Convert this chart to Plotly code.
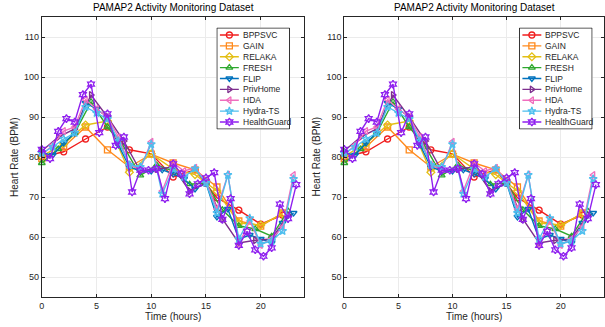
import plotly.graph_objects as go

# ---------------- data ----------------
t_2h = [0, 2, 4, 6, 8, 10, 12, 14, 16, 18, 20, 22]
t_1_5h = [0, 1.5, 3, 4.5, 6, 7.5, 9, 10.5, 12, 13.5, 15, 16.5, 18, 19.5, 21, 22.5]
t_1h = [0, 1, 2, 3, 4, 5, 6, 7, 8, 9, 10, 11, 12, 13, 14, 15, 16, 17, 18, 19, 20, 21, 22, 23]
t_075h = [0, 0.75, 1.5, 2.25, 3, 3.75, 4.5, 5.25, 6, 6.75, 7.5, 8.25, 9, 9.75, 10.5, 11.25,
          12, 12.75, 13.5, 14.25, 15, 15.75, 16.5, 17.25, 18, 18.75, 19.5, 20.25, 21, 21.75, 22.5, 23.25]

bppsvc = [80.0, 81.3, 84.5, 87.5, 81.8, 80.8, 75.0, 76.8, 69.8, 66.7, 63.2, 65.5]
gain = [79.6, 82.5, 87.5, 81.8, 77.5, 80.7, 78.5, 76.8, 72.5, 64.0, 62.7, 66.0]
relaka = [80.2, 83.3, 88.0, 89.0, 76.2, 80.8, 77.0, 75.6, 71.5, 63.5, 63.0, 65.8]
fresh = [78.5, 82.0, 86.0, 93.8, 87.5, 82.5, 75.4, 78.0, 76.5, 73.2, 73.5, 66.8, 62.8, 62.0, 60.2, 66.5]
privhome = [81.5, 85.0, 87.0, 95.5, 90.0, 84.0, 76.5, 77.0, 77.5, 71.5, 73.5, 64.5, 58.5, 59.2, 59.5, 65.5]
flip = [81.0, 80.5, 83.5, 86.0, 93.5, 92.0, 90.0, 83.0, 77.5, 76.5, 76.5, 76.8, 75.8, 74.5, 72.0, 73.5,
        65.0, 67.0, 59.5, 60.5, 59.5, 58.5, 63.5, 66.0]
hda = [80.5, 83.0, 86.5, 87.5, 94.3, 92.0, 90.0, 85.0, 78.0, 77.0, 83.8, 71.5, 78.5, 76.5, 77.3, 74.0,
       67.0, 75.6, 58.2, 64.0, 58.0, 59.5, 62.5, 75.5]
hydra = [81.0, 82.5, 84.5, 86.0, 92.5, 91.0, 89.5, 84.0, 78.0, 77.5, 83.2, 70.8, 77.0, 75.0, 77.1, 73.5,
         66.0, 75.5, 59.5, 64.7, 58.3, 59.0, 61.5, 74.5]
healthguard = [81.9, 79.6, 86.4, 89.6, 88.75, 95.6, 98.2, 86.1, 90.8, 82.9, 85.0, 71.25, 76.7, 76.7, 77.1, 69.6,
               78.3, 75.8, 70.8, 73.3, 74.8, 76.1, 64.4, 69.6, 57.9, 61.4, 56.8, 55.2, 57.3, 68.2, 64.6, 73.1]

names = ["BPPSVC", "GAIN", "RELAKA", "FRESH", "FLIP", "PrivHome", "HDA", "Hydra-TS", "HealthGuard"]
times = [t_2h, t_2h, t_2h, t_1_5h, t_1h, t_1_5h, t_1h, t_1h, t_075h]
values = [bppsvc, gain, relaka, fresh, flip, privhome, hda, hydra, healthguard]
colors = ["#F01E1E", "#FF8A1C", "#E3BF14", "#2EA82E", "#0072BD", "#7E2F8E", "#F06EBE", "#4DBEEE", "#8F1FEF"]
symbols = ["circle-open", "square-open", "diamond-open", "triangle-up-open", "triangle-down-open",
           "triangle-right-open", "triangle-left-open", "star-open", "hexagram-open"]

x_ticks = [0, 5, 10, 15, 20]
y_ticks = [50, 60, 70, 80, 90, 100, 110]
title_text = "PAMAP2 Activity Monitoring Dataset"
xlabel = "Time (hours)"
ylabel = "Heart Rate (BPM)"

# ---------------- layout geometry (pixels) ----------------
W, H = 605, 327
TOP, BOT = 17, 297
LEG_TOP, LEG_BOT = 28, 129
panels = [
    dict(xa="x", ya="y", lxa="x3", lya="y3", x0=39, x1=303, lx0=215, lx1=288),
    dict(xa="x2", ya="y2", lxa="x4", lya="y4", x0=343, x1=604, lx0=519, lx1=592),
]
FONT = "Liberation Sans, Arial, Helvetica, sans-serif"
INK = "#262626"

fig = go.Figure()
annotations = []
layout_axes = {}

for pi, p in enumerate(panels):
    # data traces
    for n, t, v, c, s in zip(names, times, values, colors, symbols):
        fig.add_trace(go.Scatter(
            x=t, y=v, mode="lines+markers", name=n, showlegend=False,
            xaxis=p["xa"], yaxis=p["ya"], cliponaxis=False,
            line=dict(color=c, width=1.4),
            marker=dict(symbol=s, size=6, color=c, line=dict(color=c, width=1.3)),
        ))

    sfx = "" if pi == 0 else "2"
    common = dict(showline=True, linecolor=INK, linewidth=1, mirror="ticks", ticks="inside",
                  ticklen=3, tickcolor=INK, tickwidth=1, showgrid=True, gridcolor="#EBEBEB",
                  gridwidth=1, zeroline=False, fixedrange=True,
                  tickfont=dict(family=FONT, size=9, color=INK))
    layout_axes["xaxis" + sfx] = dict(common, range=[0, 24], tickvals=x_ticks,
                                      domain=[p["x0"] / W, p["x1"] / W], anchor=p["ya"])
    layout_axes["yaxis" + sfx] = dict(common, range=[45, 115], tickvals=y_ticks,
                                      domain=[1 - BOT / H, 1 - TOP / H], anchor=p["xa"])

    # custom compact legend on its own hidden axes (pixel units inside the box)
    lw = p["lx1"] - p["lx0"]
    lh = LEG_BOT - LEG_TOP
    lsfx = p["lxa"][1:]
    layout_axes["xaxis" + lsfx] = dict(visible=False, range=[-0.5, lw + 0.5], fixedrange=True,
                                       domain=[(p["lx0"] - 0.5) / W, (p["lx1"] + 0.5) / W], anchor=p["lya"])
    layout_axes["yaxis" + lsfx] = dict(visible=False, range=[lh + 0.5, -0.5], fixedrange=True,
                                       domain=[1 - (LEG_BOT + 0.5) / H, 1 - (LEG_TOP - 0.5) / H], anchor=p["lxa"])
    fig.add_trace(go.Scatter(
        x=[0, lw, lw, 0, 0], y=[0, 0, lh, lh, 0], mode="lines", fill="toself",
        fillcolor="white", line=dict(color=INK, width=1), showlegend=False,
        hoverinfo="skip", xaxis=p["lxa"], yaxis=p["lya"]))
    row_h = (lh - 14) / (len(names) - 1)
    for i, (n, c, s) in enumerate(zip(names, colors, symbols)):
        yy = 7 + row_h * i
        fig.add_trace(go.Scatter(
            x=[3, 22], y=[yy, yy], mode="lines", line=dict(color=c, width=1.4),
            showlegend=False, hoverinfo="skip", xaxis=p["lxa"], yaxis=p["lya"]))
        fig.add_trace(go.Scatter(
            x=[12.5], y=[yy], mode="markers", showlegend=False, hoverinfo="skip",
            marker=dict(symbol=s, size=6, color=c, line=dict(color=c, width=1.3)),
            xaxis=p["lxa"], yaxis=p["lya"]))
        annotations.append(dict(text=n, x=24, y=yy, xref=p["lxa"], yref=p["lya"],
                                xanchor="left", yanchor="middle", showarrow=False,
                                font=dict(family=FONT, size=8.5, color=INK)))

    cx = (p["x0"] + p["x1"]) / 2
    annotations.append(dict(text=title_text, x=cx / W, y=1 - 7 / H, xref="paper", yref="paper",
                            xanchor="center", yanchor="middle", showarrow=False,
                            font=dict(family=FONT, size=10, color="black")))
    annotations.append(dict(text=xlabel, x=cx / W, y=1 - 316 / H, xref="paper", yref="paper",
                            xanchor="center", yanchor="middle", showarrow=False,
                            font=dict(family=FONT, size=10, color=INK)))
    annotations.append(dict(text=ylabel, x=(p["x0"] - 27) / W, y=1 - ((TOP + BOT) / 2) / H,
                            xref="paper", yref="paper", xanchor="center", yanchor="middle",
                            textangle=-90, showarrow=False,
                            font=dict(family=FONT, size=10, color=INK)))

fig.update_layout(
    width=W, height=H, margin=dict(l=0, r=0, t=0, b=0),
    paper_bgcolor="white", plot_bgcolor="white",
    showlegend=False, annotations=annotations, **layout_axes,
)

fig.write_html("out.html", config=dict(displayModeBar=False))
